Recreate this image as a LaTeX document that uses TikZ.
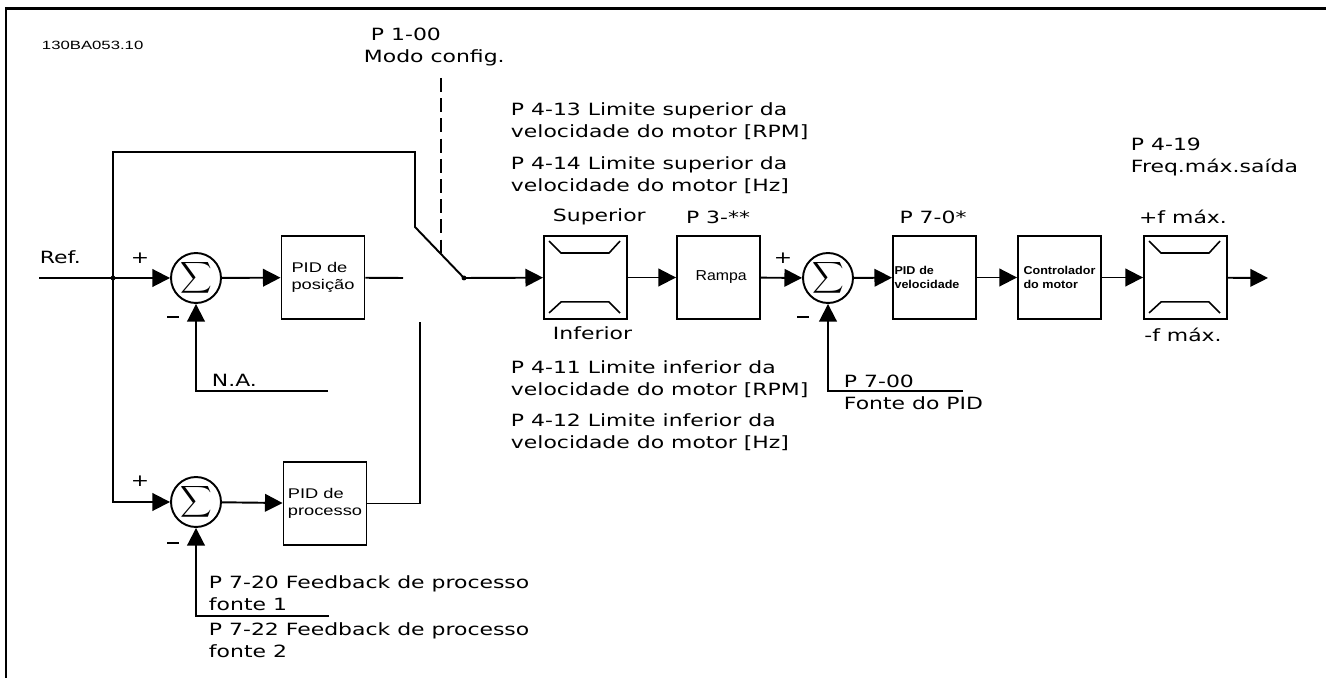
\documentclass[tikz,border=0pt]{standalone}
\usepackage{fontspec}
\usepackage{tikz}
\usetikzlibrary{arrows.meta,positioning,calc}

\newfontfamily\lblfont[FakeStretch=1.3]{DejaVu Sans}
\newfontfamily\boxfont[FakeStretch=1.3]{Liberation Sans}
\newfontfamily\smallfont[FakeStretch=1.1]{Liberation Sans}
\newfontfamily\tagfont[FakeStretch=1.4]{Liberation Sans}

\begin{document}
\begin{tikzpicture}[x=0.02cm, y=-0.02cm, line width=1.1pt,
    >={Triangle[length=10pt,width=10pt]},
    lbl/.style={font=\lblfont\fontsize{9.6pt}{12.5pt}\selectfont, align=left, inner sep=0pt},
    blk/.style={draw, minimum width=1.66cm, minimum height=1.66cm, inner sep=0pt, align=left,
        font=\boxfont\fontsize{8pt}{9.7pt}\selectfont},
    smallblk/.style={blk, font=\smallfont\bfseries\fontsize{6.5pt}{8pt}\selectfont},
    sumnode/.style={draw, circle, minimum size=1cm, inner sep=0pt},
    minus/.style={inner sep=0pt}]
\useasboundingbox (0,0) rectangle (1326,678);

% frame
\draw[line width=1.7pt] (1326,9) -- (6,9) -- (6,678);
\node[font=\tagfont\fontsize{6.8pt}{8pt}\selectfont, anchor=west, inner sep=0pt] (tag) at (41,45) {130BA053.10};

% position and process loops
\node[sumnode] (sumpos) at (196,278) {\scalebox{1.25}{$\displaystyle\sum$}};
\node[blk] (pidpos) at (323,277.5) {PID de\\posição};
\node[sumnode] (sumproc) at (196,502) {\scalebox{1.25}{$\displaystyle\sum$}};
\node[blk] (pidproc) at (325,503.5) {PID de\\processo};

% speed chain
\node[blk] (limsup) at (585.5,277.5) {};
\node[blk, font=\smallfont\fontsize{8.2pt}{9pt}\selectfont] (rampa) at (718.5,277.5) {\hspace*{3pt}Rampa};
\node[sumnode] (sumvel) at (828,278) {\scalebox{1.25}{$\displaystyle\sum$}};
\node[smallblk, text width=1.6cm] (pidvel) at (934.5,277.5) {PID de\\velocidade};
\node[smallblk] (ctrl) at (1059.5,277.5) {Controlador\\do motor};
\node[blk] (limout) at (1185.5,277.5) {};

% limiter symbols
\foreach \b in {limsup,limout} {
  \draw[line width=0.9pt] ($(\b.north west)+(6,6)$) -- ++(12,12) -- ++(48,0) -- ++(11,-12);
  \draw[line width=0.9pt] ($(\b.south west)+(6,-7)$) -- ++(12,-11) -- ++(48,0) -- ++(11,11);
}

% points
\coordinate (refin) at (39,278);
\coordinate (jref) at (113,278);
\coordinate (looptop) at (113,152);
\coordinate (swtop) at (415,227);
\coordinate (pivot) at (464,278);
\coordinate (openA) at (403,278);
\coordinate (openB) at (420,322);
\coordinate (naend) at (328,391);
\coordinate (fbend) at (329,616);
\coordinate (pidsrc) at (963,391);
\coordinate (outend) at (1268,278);
\coordinate (cfgtop) at (441,78);
\coordinate (cfgbot) at (441,253);

% connections
\draw[->] (refin) -- (sumpos);
\draw[->] (sumpos) -- (pidpos);
\draw (pidpos) -- (openA);
\draw[->] (jref) |- (sumproc);
\draw[->] (sumproc) -- (pidproc);
\draw (pidproc.east) -| (openB);
\draw (jref) -- (looptop) -| (swtop) -- (pivot);
\draw[->] (naend) -| (sumpos.south);
\draw[->] (fbend) -| (sumproc.south);
\draw[->] (pivot) -- (limsup);
\draw[->] (limsup) -- (rampa);
\draw[->] (rampa) -- (sumvel);
\draw[->] (sumvel) -- (pidvel);
\draw[->] (pidvel) -- (ctrl);
\draw[->] (ctrl) -- (limout);
\draw[->] (limout) -- (outend);
\draw[->] (pidsrc) -| (sumvel.south);
\draw[line width=0.8pt, dash pattern=on 8pt off 3.5pt] (cfgtop) -- (cfgbot);
\fill (jref) circle[radius=1.4pt];
\fill (pivot) circle[radius=1.4pt];

% signs
\node[lbl] (plA) at (140,258) {+};
\node[minus] (mnA) at (173,317) {\rule{6.5pt}{1.6pt}};
\node[lbl] (plB) at (140,481) {+};
\node[minus] (mnB) at (173,543) {\rule{6.5pt}{1.6pt}};
\node[lbl] (plC) at (783,258) {+};
\node[minus] (mnC) at (803,317) {\rule{6.5pt}{1.6pt}};

% labels
\node[lbl, anchor=west] (ref) at (39,257) {Ref.};
\node[lbl, anchor=west] (na) at (211,380) {N.A.};
\node[lbl, anchor=west] (fb1) at (208,593) {P 7-20 Feedback de processo\\fonte 1};
\node[lbl, anchor=west] (fb2) at (208,640) {P 7-22 Feedback de processo\\fonte 2};
\node[lbl, anchor=west] (cfg) at (363,47) {\hspace*{4pt}P 1-00\\Modo config.};
\node[lbl, anchor=west] (hirpm) at (510,121) {P 4-13 Limite superior da\\velocidade do motor [RPM]};
\node[lbl, anchor=west] (hihz) at (510,175) {P 4-14 Limite superior da\\velocidade do motor [Hz]};
\node[lbl, anchor=west] (sup) at (552,217) {Superior};
\node[lbl, anchor=west] (inf) at (552,333) {Inferior};
\node[lbl, anchor=west] (lorpm) at (510,379) {P 4-11 Limite inferior da\\velocidade do motor [RPM]};
\node[lbl, anchor=west] (lohz) at (510,432) {P 4-12 Limite inferior da\\velocidade do motor [Hz]};
\node[lbl] (p3) at (718,217) {P 3-**};
\node[lbl] (p70) at (933,217) {P 7-0*};
\node[lbl, anchor=west] (src) at (843,392) {P 7-00\\Fonte do PID};
\node[lbl, anchor=west] (fmax) at (1130,157) {P 4-19\\Freq.máx.saída};
\node[lbl] (fplus) at (1183,217) {+f máx.};
\node[lbl] (fminus) at (1183,335) {-f máx.};
\end{tikzpicture}
\end{document}
